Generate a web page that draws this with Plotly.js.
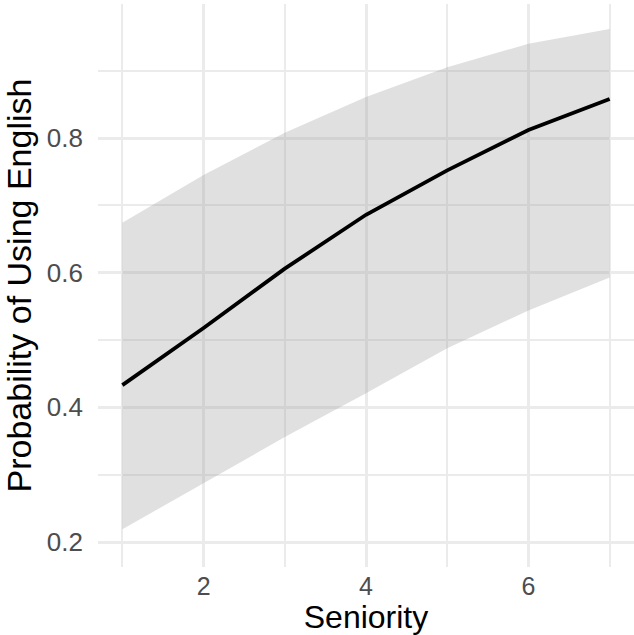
<!DOCTYPE html>
<html>
<head>
<meta charset="utf-8">
<script src="https://cdn.plot.ly/plotly-3.0.1.min.js"></script>
<style>html,body{margin:0;padding:0;background:#fff;}#chart{width:634px;height:635px;}</style>
</head>
<body>
<div id="chart"></div>
<script>
const seniority = [1, 2, 3, 4, 5, 6, 7];
const probability = [0.433, 0.518, 0.606, 0.686, 0.752, 0.812, 0.858];
const lowerCI = [0.219, 0.288, 0.356, 0.421, 0.488, 0.544, 0.593];
const upperCI = [0.674, 0.745, 0.808, 0.861, 0.905, 0.940, 0.962];

const traces = [
  {x: seniority, y: lowerCI, type: 'scatter', mode: 'lines', line: {width: 0, color: 'rgba(0,0,0,0)'}, hoverinfo: 'skip', showlegend: false},
  {x: seniority, y: upperCI, type: 'scatter', mode: 'lines', fill: 'tonexty', fillcolor: 'rgba(153,153,153,0.3)', line: {width: 0, color: 'rgba(0,0,0,0)'}, hoverinfo: 'skip', showlegend: false},
  {x: seniority, y: probability, type: 'scatter', mode: 'lines', line: {color: '#000000', width: 3.8}, showlegend: false}
];

const layout = {
  width: 634, height: 635,
  margin: {l: 98, r: 0, t: 4, b: 68},
  paper_bgcolor: '#ffffff', plot_bgcolor: '#ffffff',
  font: {family: 'Liberation Sans, Arial, sans-serif'},
  xaxis: {
    range: [0.7, 7.3], tickmode: 'array', tickvals: [2, 4, 6], ticktext: ['2', '4', '6'],
    showgrid: true, gridcolor: '#ebebeb', gridwidth: 3, zeroline: false, showline: false,
    tickfont: {size: 25, color: '#4d4d4d'}, ticks: '', ticklabelstandoff: 2,
    minor: {tickvals: [1, 3, 5, 7], showgrid: true, gridcolor: '#ebebeb', gridwidth: 1.8},
    title: {text: 'Seniority', font: {size: 32, color: '#000000'}, standoff: 4}
  },
  yaxis: {
    range: [0.163, 0.999], tickmode: 'array', tickvals: [0.2, 0.4, 0.6, 0.8], ticktext: ['0.2', '0.4', '0.6', '0.8'],
    showgrid: true, gridcolor: '#ebebeb', gridwidth: 3, zeroline: false, showline: false,
    tickfont: {size: 26, color: '#4d4d4d'}, ticks: '', ticklabelstandoff: 14,
    minor: {tickvals: [0.3, 0.5, 0.7, 0.9], showgrid: true, gridcolor: '#ebebeb', gridwidth: 1.8},
    title: {text: 'Probability of Using English', font: {size: 34, color: '#000000'}, standoff: 5}
  }
};

Plotly.newPlot('chart', traces, layout, {displayModeBar: false, staticPlot: true});
</script>
</body>
</html>
